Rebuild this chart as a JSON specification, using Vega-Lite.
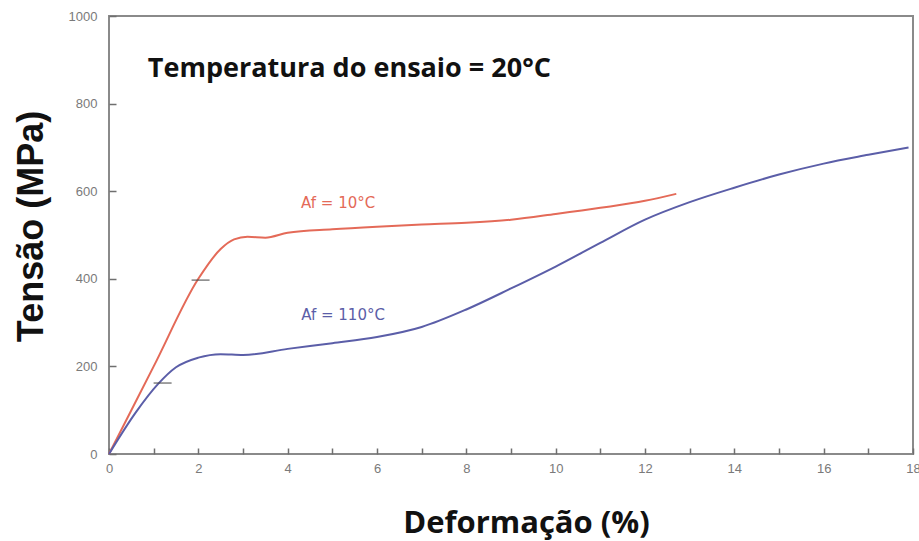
{
  "$schema": "https://vega.github.io/schema/vega-lite/v6.json",
  "width": 804,
  "height": 438,
  "autosize": "none",
  "padding": {"left": 109, "top": 16, "right": 6, "bottom": 87},
  "background": "white",
  "config": {
    "view": {"stroke": "#8a8a8a", "strokeWidth": 2},
    "axis": {
      "grid": false,
      "domain": false,
      "tickColor": "#6f6f6f",
      "tickWidth": 1.5,
      "labelColor": "#7a7a7a",
      "labelFont": "Liberation Sans",
      "labelFontSize": 13,
      "titleFontWeight": "bold",
      "titleColor": "#111111"
    }
  },
  "datasets": {
    "curves": [
      {"deformacao": 0, "tensao": 0, "serie": "Af = 10°C"},
      {"deformacao": 1, "tensao": 200, "serie": "Af = 10°C"},
      {"deformacao": 2, "tensao": 400, "serie": "Af = 10°C"},
      {"deformacao": 2.5, "tensao": 468, "serie": "Af = 10°C"},
      {"deformacao": 2.8, "tensao": 490, "serie": "Af = 10°C"},
      {"deformacao": 3.1, "tensao": 496, "serie": "Af = 10°C"},
      {"deformacao": 3.5, "tensao": 494, "serie": "Af = 10°C"},
      {"deformacao": 4, "tensao": 505, "serie": "Af = 10°C"},
      {"deformacao": 5, "tensao": 513, "serie": "Af = 10°C"},
      {"deformacao": 6, "tensao": 519, "serie": "Af = 10°C"},
      {"deformacao": 7, "tensao": 524, "serie": "Af = 10°C"},
      {"deformacao": 8, "tensao": 528, "serie": "Af = 10°C"},
      {"deformacao": 9, "tensao": 535, "serie": "Af = 10°C"},
      {"deformacao": 10, "tensao": 548, "serie": "Af = 10°C"},
      {"deformacao": 11, "tensao": 562, "serie": "Af = 10°C"},
      {"deformacao": 12, "tensao": 578, "serie": "Af = 10°C"},
      {"deformacao": 12.7, "tensao": 594, "serie": "Af = 10°C"},
      {"deformacao": 0, "tensao": 0, "serie": "Af = 110°C"},
      {"deformacao": 0.6, "tensao": 95, "serie": "Af = 110°C"},
      {"deformacao": 1.1, "tensao": 160, "serie": "Af = 110°C"},
      {"deformacao": 1.5, "tensao": 198, "serie": "Af = 110°C"},
      {"deformacao": 2, "tensao": 220, "serie": "Af = 110°C"},
      {"deformacao": 2.5, "tensao": 228, "serie": "Af = 110°C"},
      {"deformacao": 3, "tensao": 226, "serie": "Af = 110°C"},
      {"deformacao": 4, "tensao": 240, "serie": "Af = 110°C"},
      {"deformacao": 5, "tensao": 253, "serie": "Af = 110°C"},
      {"deformacao": 6, "tensao": 267, "serie": "Af = 110°C"},
      {"deformacao": 7, "tensao": 290, "serie": "Af = 110°C"},
      {"deformacao": 8, "tensao": 330, "serie": "Af = 110°C"},
      {"deformacao": 9, "tensao": 378, "serie": "Af = 110°C"},
      {"deformacao": 10, "tensao": 428, "serie": "Af = 110°C"},
      {"deformacao": 11, "tensao": 482, "serie": "Af = 110°C"},
      {"deformacao": 12, "tensao": 535, "serie": "Af = 110°C"},
      {"deformacao": 13, "tensao": 575, "serie": "Af = 110°C"},
      {"deformacao": 14, "tensao": 608, "serie": "Af = 110°C"},
      {"deformacao": 15, "tensao": 638, "serie": "Af = 110°C"},
      {"deformacao": 16, "tensao": 663, "serie": "Af = 110°C"},
      {"deformacao": 17, "tensao": 683, "serie": "Af = 110°C"},
      {"deformacao": 17.9, "tensao": 700, "serie": "Af = 110°C"}
    ],
    "marcas": [
      {"deformacao": 2.05, "tensao": 397},
      {"deformacao": 1.2, "tensao": 162}
    ],
    "rotulos": [
      {"deformacao": 5.13, "tensao": 572, "serie": "Af = 10°C"},
      {"deformacao": 5.24, "tensao": 317, "serie": "Af = 110°C"}
    ],
    "nota": [
      {"deformacao": 0.87, "tensao": 880, "texto": "Temperatura do ensaio = 20°C"}
    ]
  },
  "layer": [
    {
      "data": {"name": "curves"},
      "mark": {"type": "line", "interpolate": "monotone", "strokeWidth": 2},
      "encoding": {
        "x": {
          "field": "deformacao", "type": "quantitative",
          "scale": {"domain": [0, 18], "nice": false},
          "axis": {
            "title": "Deformação (%)",
            "titleFont": "Open Sans",
            "titleFontSize": 31,
            "titleX": 417,
            "titleY": 84,
            "titleAlign": "center",
            "titleBaseline": "alphabetic",
            "values": [0,1,2,3,4,5,6,7,8,9,10,11,12,13,14,15,16,17,18],
            "labelExpr": "datum.value % 2 === 0 ? datum.label : ''",
            "offset": -6,
            "tickSize": 6,
            "labelPadding": 8,
            "labelFlush": false,
            "labelOverlap": false
          }
        },
        "y": {
          "field": "tensao", "type": "quantitative",
          "scale": {"domain": [0, 1000], "nice": false},
          "axis": {
            "title": "Tensão (MPa)",
            "titleFont": "Liberation Sans",
            "titleFontSize": 36,
            "titleX": -66,
            "titleY": 210,
            "titleAlign": "center",
            "titleBaseline": "bottom",
            "values": [0, 200, 400, 600, 800, 1000],
            "format": "d",
            "offset": -7,
            "tickSize": 7,
            "labelPadding": 12,
            "labelFlush": false
          }
        },
        "color": {
          "field": "serie", "type": "nominal",
          "scale": {"domain": ["Af = 10°C", "Af = 110°C"], "range": ["#e46a58", "#5b5ea8"]},
          "legend": null
        }
      }
    },
    {
      "data": {"name": "marcas"},
      "mark": {"type": "tick", "orient": "horizontal", "color": "#4a4a4a", "size": 18, "thickness": 1.5},
      "encoding": {
        "x": {"field": "deformacao", "type": "quantitative"},
        "y": {"field": "tensao", "type": "quantitative"}
      }
    },
    {
      "data": {"name": "rotulos"},
      "mark": {"type": "text", "font": "DejaVu Sans", "fontSize": 15, "align": "center", "baseline": "middle"},
      "encoding": {
        "x": {"field": "deformacao", "type": "quantitative"},
        "y": {"field": "tensao", "type": "quantitative"},
        "text": {"field": "serie"},
        "color": {
          "field": "serie", "type": "nominal",
          "scale": {"domain": ["Af = 10°C", "Af = 110°C"], "range": ["#e8806a", "#6a6cb4"]},
          "legend": null
        }
      }
    },
    {
      "data": {"name": "nota"},
      "mark": {"type": "text", "font": "Open Sans", "fontWeight": "bold", "fontSize": 27, "align": "left", "baseline": "middle", "color": "#111111"},
      "encoding": {
        "x": {"field": "deformacao", "type": "quantitative"},
        "y": {"field": "tensao", "type": "quantitative"},
        "text": {"field": "texto"}
      }
    }
  ]
}
